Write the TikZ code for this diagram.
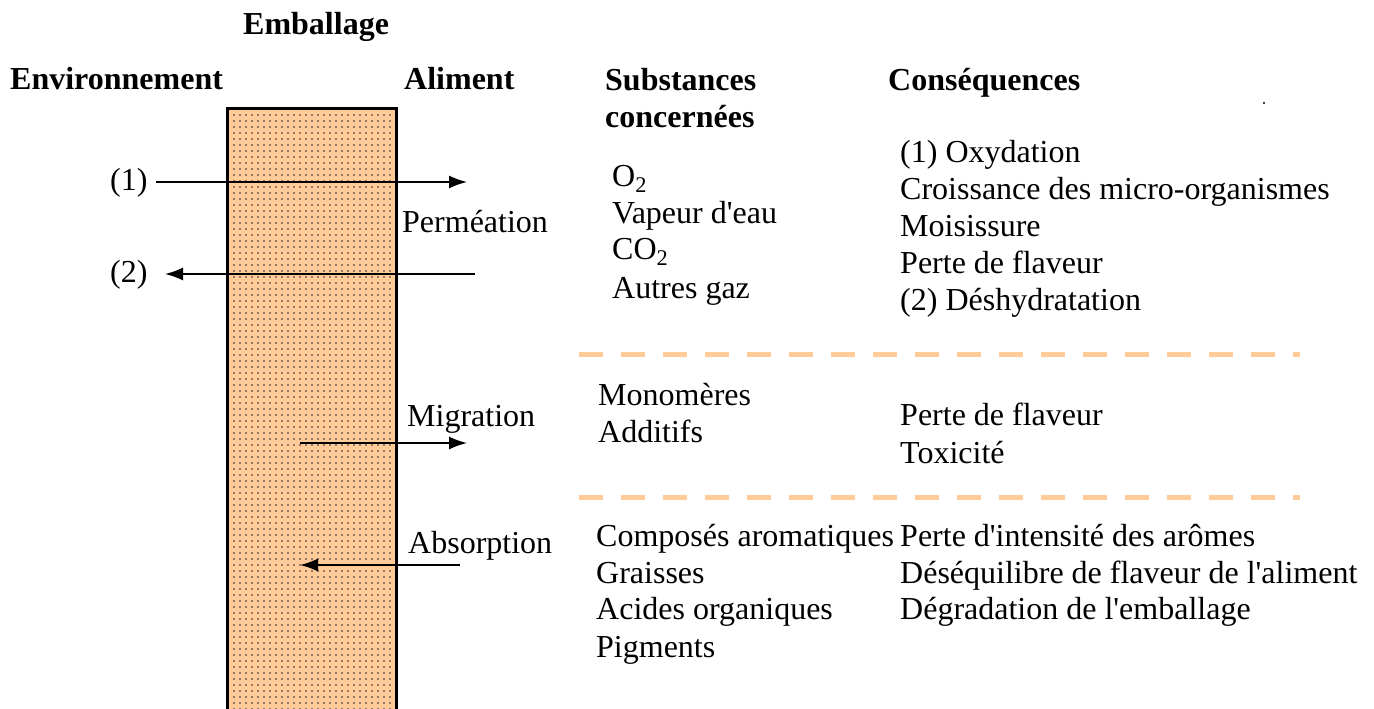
\documentclass[tikz,border=0pt]{standalone}
\usepackage{fontspec}
\setmainfont{Liberation Serif}
\usetikzlibrary{arrows.meta,patterns.meta}
\definecolor{peach}{HTML}{FFCC99}
\newcommand{\apos}{\textquotesingle}
\begin{document}
\begin{tikzpicture}[x=1pt,y=-1pt,
  txt/.style={anchor=base west,inner sep=0pt,font=\fontsize{32}{37}\selectfont},
  hdr/.style={anchor=base west,inner sep=0pt,font=\fontsize{32}{38}\selectfont\bfseries},
  arr/.style={line width=1.6pt,-{Latex[length=18pt,width=13pt]}},
  sep/.style={draw=peach,line width=5pt,dash pattern=on 24pt off 18pt}]
\useasboundingbox (0,0) rectangle (1374,709);
% packaging wall
\fill[peach] (227,108) rectangle (396,712);
\fill[pattern={Dots[distance=6pt,radius=0.9pt]},pattern color=black!85] (228,109) rectangle (395,712);
\draw[line width=3pt] (227,712) -- (227,108) -- (396,108) -- (396,712);
% headers
\node[hdr] (emb) at (243,35) {Emballage};
\node[hdr] (env) at (10,89) {Environnement};
\node[hdr] (ali) at (404,89) {Aliment};
\node[hdr,align=left] (sub) at (605,128) {Substances\\concernées};
\node[hdr] (cons) at (888,91) {Conséquences};
\fill (1264,103) circle (1.2pt);
% arrows
\node[txt] (n1) at (110,190) {(1)};
\node[txt] (n2) at (110,282) {(2)};
\coordinate (a1e) at (467,182);
\coordinate (a2s) at (475,274);
\draw[arr] (n1.east |- a1e) ++(8,0) -- (a1e);
\coordinate (a2e) at (165,274);
\draw[arr] (a2s) -- (a2e);
\coordinate (m1) at (300,443); \coordinate (m2) at (467,443);
\draw[arr] (m1) -- (m2);
\coordinate (b1) at (460,565); \coordinate (b2) at (300,565);
\draw[arr] (b1) -- (b2);
\node[txt] (perm) at (402,232) {Perméation};
\node[txt] (migr) at (407,426) {Migration};
\node[txt] (abso) at (408,553) {Absorption};
% substances
\node[txt] (s1) at (612,186) {O\textsubscript{2}};
\node[txt] (s2) at (612,223) {Vapeur d\apos eau};
\node[txt] (s3) at (612,259) {CO\textsubscript{2}};
\node[txt] (s4) at (612,298) {Autres gaz};
\node[txt] (c1) at (900,162) {(1) Oxydation};
\node[txt] (c2) at (900,199) {Croissance des micro-organismes};
\node[txt] (c3) at (900,236) {Moisissure};
\node[txt] (c4) at (900,273) {Perte de flaveur};
\node[txt] (c5) at (900,310) {(2) Déshydratation};
\draw[sep] (579,354) -- (1300,354);
\node[txt] (s5) at (598,405) {Monomères};
\node[txt] (s6) at (598,442) {Additifs};
\node[txt] (c6) at (900,425) {Perte de flaveur};
\node[txt] (c7) at (900,463) {Toxicité};
\draw[sep] (579,497) -- (1300,497);
\node[txt] (s7) at (596,546) {Composés aromatiques};
\node[txt] (s8) at (596,583) {Graisses};
\node[txt] (s9) at (596,619) {Acides organiques};
\node[txt] (s10) at (596,657) {Pigments};
\node[txt] (c8) at (900,546) {Perte d\apos intensité des arômes};
\node[txt] (c9) at (900,583) {Déséquilibre de flaveur de l\apos aliment};
\node[txt] (c10) at (900,619) {Dégradation de l\apos emballage};
\end{tikzpicture}
\end{document}
